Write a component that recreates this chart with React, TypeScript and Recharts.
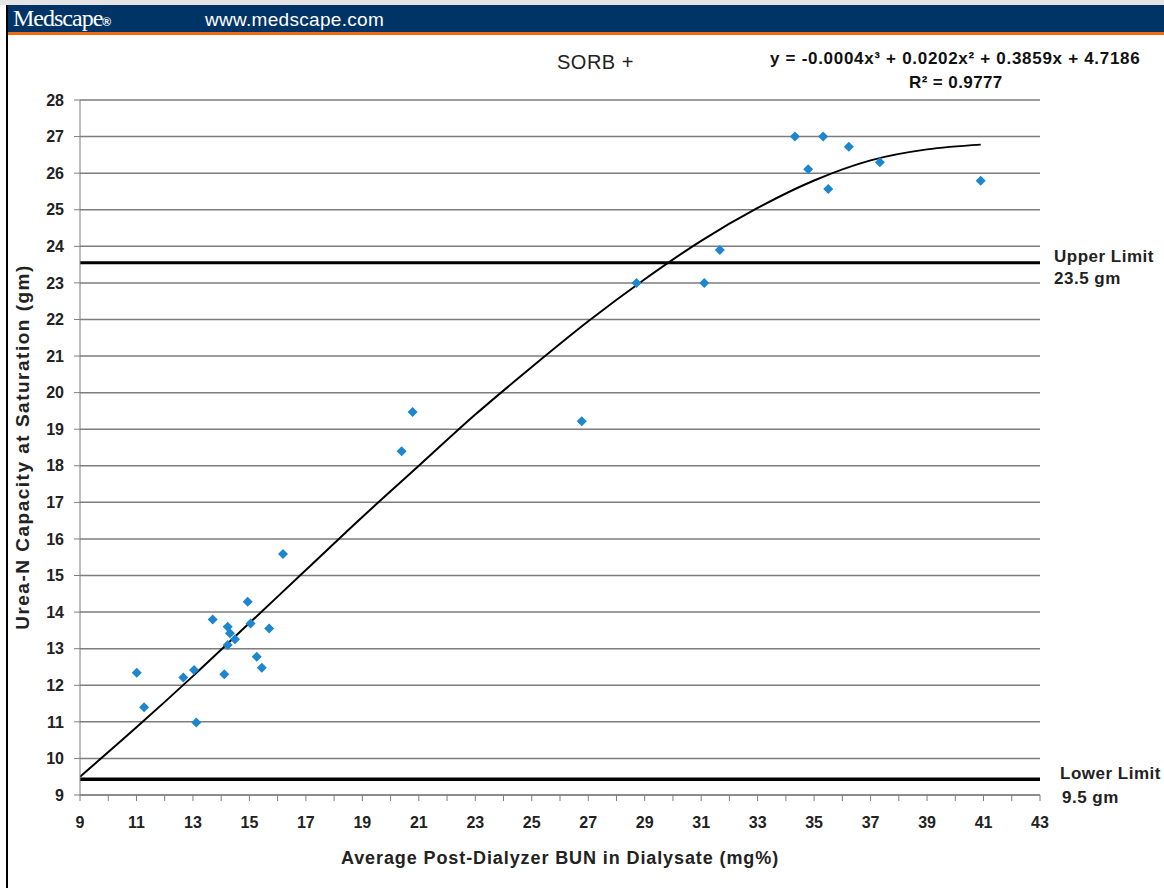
import React from "react"
import {
  ComposedChart,
  Scatter,
  Line,
  XAxis,
  YAxis,
  CartesianGrid,
  ReferenceLine,
} from "recharts"

// measured points (post-dialyzer BUN vs urea-N capacity)
const bunValues = [
  11.01, 11.27, 12.66, 13.04, 13.12, 13.7, 14.11, 14.23, 14.31, 14.49,
  14.23, 14.94, 15.04, 15.26, 15.44, 15.7, 16.19, 20.39, 20.78, 26.77,
  28.71, 31.11, 31.66, 34.32, 35.32, 34.79, 36.23, 35.5, 37.33, 40.9,
]
const capacityValues = [
  12.34, 11.4, 12.21, 12.42, 10.98, 13.8, 12.3, 13.6, 13.42, 13.26,
  13.1, 14.28, 13.69, 12.78, 12.48, 13.55, 15.59, 18.4, 19.47, 19.22,
  23.0, 23.0, 23.9, 27.0, 27.0, 26.11, 26.72, 25.57, 26.3, 25.79,
]

// trend line
const fitBun = [9, 11, 13, 15, 17, 19, 21, 23, 25, 27, 29, 31, 33, 35, 37, 39, 40.9]
const fitCapacity = [
  9.5, 10.85, 12.25, 13.7, 15.15, 16.6, 18.0, 19.4, 20.7, 21.95, 23.1,
  24.15, 25.05, 25.8, 26.35, 26.65, 26.78,
]

const xTicks = [
  9, 10, 11, 12, 13, 14, 15, 16, 17, 18, 19, 20, 21, 22, 23, 24, 25, 26,
  27, 28, 29, 30, 31, 32, 33, 34, 35, 36, 37, 38, 39, 40, 41, 42, 43,
]
const yTicks = [
  9, 10, 11, 12, 13, 14, 15, 16, 17, 18, 19, 20, 21, 22, 23, 24, 25, 26, 27, 28,
]

const upperLimit = 23.55
const lowerLimit = 9.43

const points = bunValues.map((x, i) => ({ x, y: capacityValues[i] }))
const fit = fitBun.map((x, i) => ({ x, y: fitCapacity[i] }))

const font = '"Liberation Sans", Arial, sans-serif'

const Diamond = (props: any) => {
  const { cx, cy } = props
  if (cx == null || cy == null) return null
  const r = 5
  return (
    <path
      d={`M${cx},${cy - r}L${cx + r},${cy}L${cx},${cy + r}L${cx - r},${cy}Z`}
      fill="#1c86cf"
    />
  )
}

const abs = (left: number, top: number, extra: React.CSSProperties = {}): React.CSSProperties => ({
  position: "absolute",
  left,
  top,
  whiteSpace: "nowrap",
  lineHeight: 1,
  fontFamily: font,
  ...extra,
})

export default function App() {
  return (
    <div style={{ position: "relative", width: 1164, height: 888, background: "#fff", overflow: "hidden" }}>
      <style>{"body{margin:0}"}</style>

      <div style={{ position: "absolute", left: 0, top: 0, width: 1164, height: 5, background: "#e4e4e4" }} />
      <div style={{ position: "absolute", left: 6, top: 5, width: 1158, height: 27, background: "#003366" }} />
      <div style={{ position: "absolute", left: 6, top: 32, width: 1158, height: 3, background: "#f26a10" }} />
      <div style={{ position: "absolute", left: 6, top: 5, width: 2, height: 883, background: "#000" }} />

      <div style={abs(13, 6, { fontFamily: '"Liberation Serif", serif', fontSize: 24, color: "#fff", letterSpacing: -1 })}>
        Medscape<span style={{ fontSize: 12, fontFamily: font, fontWeight: "bold" }}>®</span>
      </div>
      <div style={abs(205, 10, { fontSize: 19, color: "#fff", letterSpacing: 0.3 })}>www.medscape.com</div>

      <div style={abs(557, 52, { fontSize: 20, color: "#222", letterSpacing: 0.5 })}>SORB +</div>
      <div style={abs(770, 50, { fontSize: 17, fontWeight: "bold", color: "#111", letterSpacing: 0.7 })}>
        y = -0.0004x³ + 0.0202x² + 0.3859x + 4.7186
      </div>
      <div style={abs(909, 74, { fontSize: 17, fontWeight: "bold", color: "#111", letterSpacing: 0.4 })}>R² = 0.9777</div>

      <div style={abs(1054, 248, { fontSize: 17, fontWeight: "bold", color: "#222", letterSpacing: 0.5 })}>Upper Limit</div>
      <div style={abs(1054, 270, { fontSize: 17, fontWeight: "bold", color: "#222", letterSpacing: 0.5 })}>23.5 gm</div>
      <div style={abs(1060, 765, { fontSize: 17, fontWeight: "bold", color: "#222", letterSpacing: 0.5 })}>Lower Limit</div>
      <div style={abs(1062, 789, { fontSize: 17, fontWeight: "bold", color: "#222", letterSpacing: 0.5 })}>9.5 gm</div>

      <div
        style={abs(560, 858, {
          fontSize: 18,
          fontWeight: "bold",
          color: "#222",
          letterSpacing: 0.9,
          transform: "translate(-50%, -50%)",
        })}
      >
        Average Post-Dialyzer BUN in Dialysate (mg%)
      </div>
      <div
        style={abs(22, 447, {
          fontSize: 19,
          fontWeight: "bold",
          color: "#222",
          letterSpacing: 1.5,
          transform: "translate(-50%, -50%) rotate(-90deg)",
        })}
      >
        Urea-N Capacity at Saturation (gm)
      </div>

      <div style={{ position: "absolute", left: 0, top: 0 }}>
        <ComposedChart width={1164} height={888} margin={{ top: 100, right: 124, bottom: 53, left: 20 }}>
          <CartesianGrid vertical={false} stroke="#7d7d7d" strokeWidth={1.5} />
          <XAxis
            type="number"
            dataKey="x"
            domain={[9, 43]}
            ticks={xTicks}
            interval={0}
            allowDataOverflow
            height={40}
            tickSize={6}
            tickMargin={16}
            stroke="#7d7d7d"
            tickFormatter={(v: number) => (v % 2 === 1 ? String(v) : "")}
            tick={{ fill: "#222", fontSize: 16, fontWeight: "bold", fontFamily: font }}
          />
          <YAxis
            type="number"
            dataKey="y"
            domain={[9, 28]}
            ticks={yTicks}
            interval={0}
            allowDataOverflow
            width={60}
            tickSize={6}
            tickMargin={10}
            stroke="#7d7d7d"
            tick={{ fill: "#222", fontSize: 16, fontWeight: "bold", fontFamily: font }}
          />
          <ReferenceLine y={upperLimit} stroke="#000" strokeWidth={3} />
          <ReferenceLine y={lowerLimit} stroke="#000" strokeWidth={3.5} />
          <Line
            data={fit}
            dataKey="y"
            type="monotone"
            stroke="#000"
            strokeWidth={2}
            dot={false}
            isAnimationActive={false}
          />
          <Scatter data={points} dataKey="y" shape={Diamond} isAnimationActive={false} />
        </ComposedChart>
      </div>
    </div>
  )
}
